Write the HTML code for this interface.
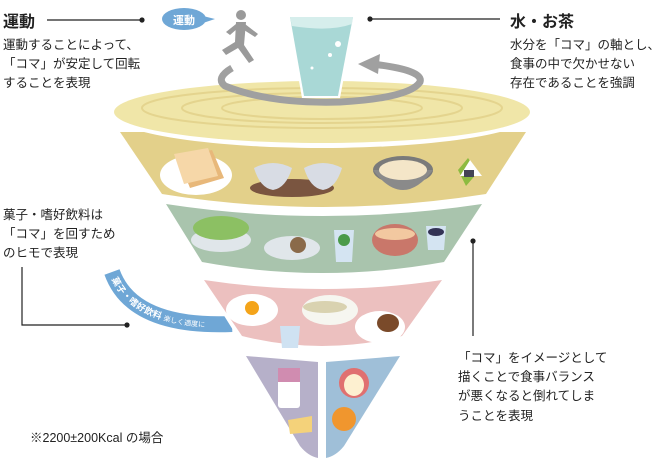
<!DOCTYPE html>
<html><head><meta charset="utf-8"><style>
html,body{margin:0;padding:0;background:#fff;}
svg{display:block;}
text{font-family:"Liberation Sans","Noto Sans CJK JP",sans-serif;fill:#222;}
</style></head><body>
<svg width="654" height="467" viewBox="0 0 654 467" xmlns="http://www.w3.org/2000/svg">
<defs><path id="rib" d="M112,272 Q132,328 232,324"/></defs>
<!-- ribbon -->
<use href="#rib" fill="none" stroke="#fff" stroke-width="22"/>
<use href="#rib" fill="none" stroke="#6fa7d6" stroke-width="16"/>
<text font-size="9" font-weight="bold" style="fill:#fff" dy="3"><textPath href="#rib" startOffset="6">菓子・嗜好飲料 <tspan font-size="7" font-weight="normal">楽しく適度に</tspan></textPath></text>
<!-- band 4 -->
<path d="M240,352 Q322,362 406,352 L340,452 Q322,470 304,452 Z" fill="#fff"/>
<path d="M246,356 L318,362 L318,458 Q308,456 300,446 Z" fill="#b6b0c9"/>
<path d="M326,362 L400,356 L344,446 Q336,456 326,458 Z" fill="#9fbfd8"/>
<!-- band 3 -->
<path d="M198,274 Q322,294 448,274 L406,338 Q322,360 238,338 Z" fill="#fff"/>
<path d="M204,280 Q322,298 442,280 L402,336 Q322,356 242,336 Z" fill="#ecc0bf"/>
<!-- band 2 -->
<path d="M160,198 Q322,224 488,198 L448,262 Q322,288 196,262 Z" fill="#fff"/>
<path d="M166,204 Q322,228 482,204 L444,262 Q322,284 202,262 Z" fill="#a9c4ad"/>
<!-- band 1 -->
<path d="M114,128 L532,128 L490,196 Q322,226 156,196 Z" fill="#fff"/>
<path d="M120,132 L526,132 L486,194 Q322,220 162,194 Z" fill="#e3d08a"/>
<!-- top disc -->
<ellipse cx="322" cy="112" rx="214" ry="36" fill="#fff"/>
<ellipse cx="322" cy="112" rx="208" ry="31" fill="#f0e6a8"/>
<g fill="none" stroke="#e4d48e" stroke-width="2">
<ellipse cx="322" cy="108" rx="180" ry="20"/><ellipse cx="322" cy="108" rx="140" ry="15"/><ellipse cx="322" cy="108" rx="100" ry="11"/>
</g>
<!-- ring -->
<path d="M232,68 Q215,78 225,86 Q270,104 340,102 Q410,98 420,82 Q424,70 372,64" fill="none" stroke="#a0a0a0" stroke-width="7"/>
<polygon points="358,64 380,54 378,74" fill="#a0a0a0"/>
<!-- glass -->
<path d="M287,12 L356,12 L340,98 L302,98 Z" fill="#fff"/>
<path d="M290,17 L353,17 L338,96 L304,96 Z" fill="#a9d8d6"/>
<path d="M290,17 L353,17 L352,24 Q330,32 292,26 Z" fill="#d6eeec"/>
<circle cx="338" cy="44" r="3" fill="#fff"/><circle cx="330" cy="55" r="2" fill="#fff"/><circle cx="312" cy="68" r="1.5" fill="#fff"/>
<!-- runner -->
<g fill="#9a9a9a"><circle cx="241" cy="15" r="5"/>
<path d="M236,22 L246,22 L244,45 L254,60 L249,63 L238,48 L226,55 L222,50 L235,42 Z"/>
<path d="M236,24 L226,32 L230,35 L238,28 Z M245,24 L258,34 L255,37 L244,30 Z"/></g>
<!-- pill -->
<ellipse cx="184" cy="19" rx="22" ry="11" fill="#6fa7d6"/>
<polygon points="203,16 215,19 203,23" fill="#6fa7d6"/>
<text x="184" y="24" font-size="11" font-weight="bold" text-anchor="middle" style="fill:#fff">運動</text>
<!-- food band1 -->
<ellipse cx="196" cy="175" rx="36" ry="20" fill="#fff"/>
<polygon points="178,158 212,150 224,178 190,188" fill="#e8b87a"/>
<polygon points="174,154 208,148 218,176 184,184" fill="#f6d7a8"/>
<ellipse cx="292" cy="188" rx="42" ry="9" fill="#7a5540"/>
<path d="M254,168 Q273,158 292,168 Q286,188 273,190 Q260,188 254,168Z" fill="#d8dce4"/>
<path d="M304,168 Q323,158 342,168 Q336,188 323,190 Q310,188 304,168Z" fill="#d8dce4"/>
<ellipse cx="403" cy="170" rx="30" ry="14" fill="#7a7a7a"/>
<path d="M373,170 Q403,210 433,170Z" fill="#8a8a8a"/><ellipse cx="403" cy="170" rx="24" ry="10" fill="#f4e6c8"/>
<path d="M458,170 L468,158 L478,172 L466,186Z" fill="#8dbb40"/><polygon points="460,176 470,160 482,176" fill="#fff"/>
<rect x="464" y="170" width="10" height="7" fill="#445"/>
<!-- band2 food -->
<ellipse cx="221" cy="240" rx="30" ry="12" fill="#e0e6ea"/><ellipse cx="221" cy="228" rx="28" ry="12" fill="#8cc063"/>
<ellipse cx="292" cy="248" rx="28" ry="12" fill="#e0e6ea"/><circle cx="298" cy="245" r="8" fill="#8a6a4a"/>
<path d="M334,230 L354,230 L352,262 L336,262Z" fill="#d4e4f2"/><circle cx="344" cy="240" r="6" fill="#4a9a4a"/>
<ellipse cx="395" cy="240" rx="23" ry="16" fill="#c9776a"/><ellipse cx="395" cy="234" rx="20" ry="6" fill="#f2c8a0"/>
<path d="M426,226 L446,226 L444,250 L428,250Z" fill="#d4e4f2"/><ellipse cx="436" cy="232" rx="8" ry="4" fill="#335"/>
<!-- band3 food -->
<ellipse cx="252" cy="310" rx="26" ry="16" fill="#fff"/><circle cx="252" cy="308" r="7" fill="#f4a41a"/>
<ellipse cx="330" cy="310" rx="28" ry="15" fill="#f6f6f0"/><ellipse cx="325" cy="307" rx="22" ry="6" fill="#d9d2b0"/>
<ellipse cx="380" cy="327" rx="25" ry="16" fill="#fff"/><ellipse cx="388" cy="323" rx="11" ry="9" fill="#7a4a2a"/>
<path d="M280,326 L300,326 L298,348 L282,348Z" fill="#cfe2f2"/>
<!-- band4 food -->
<rect x="278" y="368" width="22" height="40" rx="3" fill="#fff"/><rect x="278" y="368" width="22" height="14" fill="#d08cb0"/>
<polygon points="288,420 312,416 312,432 290,434" fill="#f4d27a"/>
<circle cx="354" cy="383" r="15" fill="#e07070"/><ellipse cx="354" cy="385" rx="10" ry="11" fill="#fdf0d0"/>
<circle cx="344" cy="419" r="12" fill="#f0962e"/>
<!-- leaders -->
<g stroke="#222" stroke-width="1.2" fill="none">
<line x1="47" y1="20" x2="142" y2="20"/><line x1="370" y1="19" x2="500" y2="19"/>
<polyline points="22,267 22,325 127,325"/><line x1="473" y1="241" x2="473" y2="336"/></g>
<g fill="#222"><circle cx="142" cy="20" r="2.6"/><circle cx="370" cy="19" r="2.6"/><circle cx="127" cy="325" r="2.6"/><circle cx="473" cy="241" r="2.6"/></g>
<!-- text -->
<text x="3" y="27" font-size="16" font-weight="bold">運動</text>
<g font-size="12.5"><text x="3" y="49">運動することによって、</text><text x="3" y="68">「コマ」が安定して回転</text><text x="3" y="87">することを表現</text></g>
<text x="510" y="27" font-size="16" font-weight="bold">水・お茶</text>
<g font-size="12.5"><text x="510" y="49">水分を「コマ」の軸とし、</text><text x="510" y="68">食事の中で欠かせない</text><text x="510" y="87">存在であることを強調</text>
<text x="3" y="219">菓子・嗜好飲料は</text><text x="3" y="238">「コマ」を回すため</text><text x="3" y="257">のヒモで表現</text>
<text x="458" y="362">「コマ」をイメージとして</text><text x="458" y="381">描くことで食事バランス</text><text x="458" y="400">が悪くなると倒れてしま</text><text x="458" y="420">うことを表現</text>
<text x="30" y="442">※2200±200Kcal の場合</text></g>
</svg>
</body></html>
